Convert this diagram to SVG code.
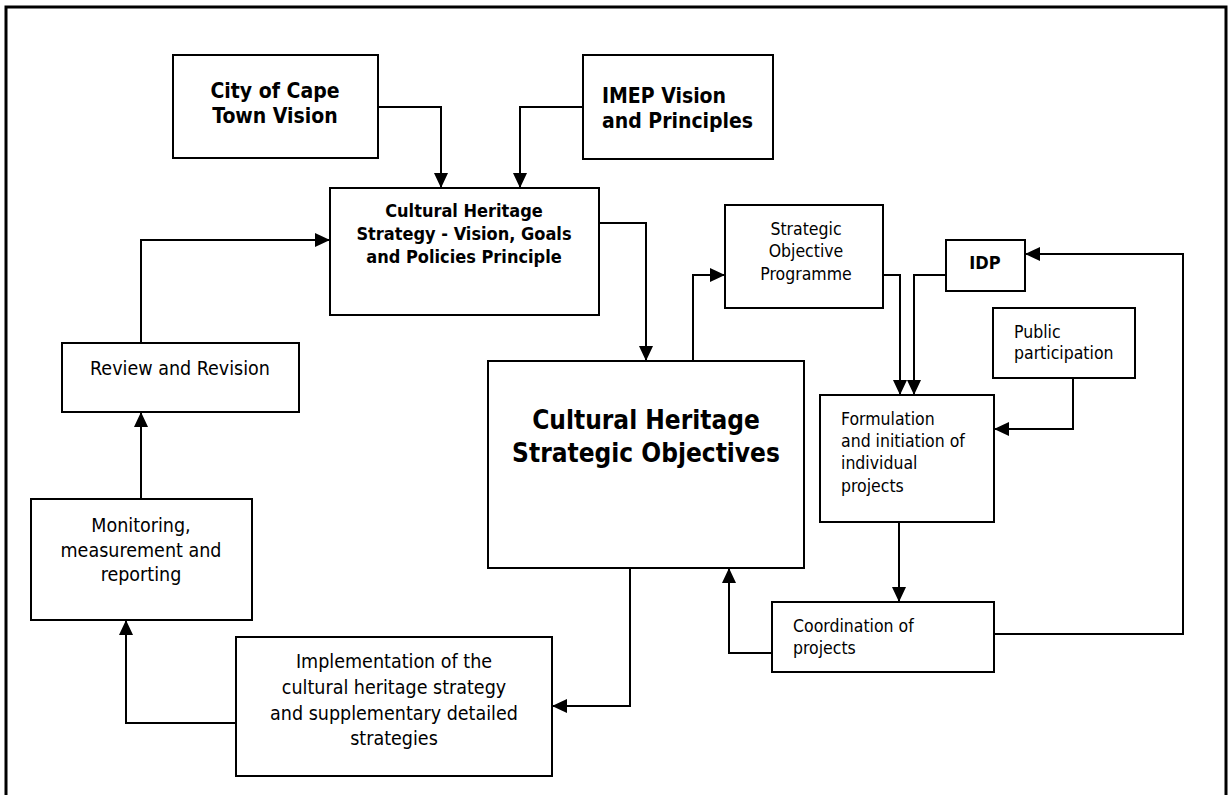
<svg xmlns="http://www.w3.org/2000/svg" width="1231" height="795" viewBox="0 0 1231 795">
<style>
.box{fill:#fff;stroke:#000;stroke-width:2}
.t{font-family:"DejaVu Sans Condensed","DejaVu Sans",sans-serif;fill:#000}
.b{font-weight:bold}
.c{text-anchor:middle}
.s{font-size:17.5px}
.m{font-size:19.5px}
.con{fill:none;stroke:#000;stroke-width:2}
</style>
<defs>
<marker id="arr" markerUnits="userSpaceOnUse" markerWidth="15" markerHeight="14" refX="15" refY="7" orient="auto">
<path d="M0,0 L15,7 L0,14 z" fill="#000"/>
</marker>
</defs>
<rect width="1231" height="795" fill="#fff"/>
<path d="M6,795 V7 H1226 V795" fill="none" stroke="#000" stroke-width="3"/>

<g id="connectors">
<path class="con" d="M378,107 H441 V188" marker-end="url(#arr)"/>
<path class="con" d="M583,107 H520 V188" marker-end="url(#arr)"/>
<path class="con" d="M141,343 V240 H330" marker-end="url(#arr)"/>
<path class="con" d="M599,223 H646 V361" marker-end="url(#arr)"/>
<path class="con" d="M693,361 V275 H725" marker-end="url(#arr)"/>
<path class="con" d="M883,275 H900 V395" marker-end="url(#arr)"/>
<path class="con" d="M946,275 H914 V395" marker-end="url(#arr)"/>
<path class="con" d="M1073,378 V429 H994" marker-end="url(#arr)"/>
<path class="con" d="M899,522 V602" marker-end="url(#arr)"/>
<path class="con" d="M994,634 H1183 V254 H1025" marker-end="url(#arr)"/>
<path class="con" d="M772,653 H729 V568" marker-end="url(#arr)"/>
<path class="con" d="M630,568 V706 H552" marker-end="url(#arr)"/>
<path class="con" d="M236,723 H126 V620" marker-end="url(#arr)"/>
<path class="con" d="M141,499 V412" marker-end="url(#arr)"/>
</g>

<g id="city-vision">
<rect class="box" x="173" y="55" width="205" height="103"/>
<text class="t b c" font-size="21" x="275" y="98">City of Cape</text>
<text class="t b c" font-size="21" x="275" y="123">Town Vision</text>
</g>

<g id="imep-vision">
<rect class="box" x="583" y="55" width="190" height="104"/>
<text class="t b" font-size="21" x="602" y="103">IMEP Vision</text>
<text class="t b" font-size="21" x="602" y="128">and Principles</text>
</g>

<g id="ch-strategy">
<rect class="box" x="330" y="188" width="269" height="127"/>
<text class="t b c" font-size="18" x="464" y="217">Cultural Heritage</text>
<text class="t b c" font-size="18" x="464" y="240">Strategy - Vision, Goals</text>
<text class="t b c" font-size="18" x="464" y="263">and Policies Principle</text>
</g>

<g id="sop">
<rect class="box" x="725" y="205" width="158" height="103"/>
<text class="t s c" x="806" y="235">Strategic</text>
<text class="t s c" x="806" y="257">Objective</text>
<text class="t s c" x="806" y="280">Programme</text>
</g>

<g id="idp">
<rect class="box" x="946" y="240" width="79" height="51"/>
<text class="t b c" font-size="18" x="985" y="269">IDP</text>
</g>

<g id="public">
<rect class="box" x="993" y="308" width="142" height="70"/>
<text class="t s" x="1014" y="338">Public</text>
<text class="t s" x="1014" y="359">participation</text>
</g>

<g id="ch-objectives">
<rect class="box" x="488" y="361" width="316" height="207"/>
<text class="t b c" font-size="26" x="646" y="429">Cultural Heritage</text>
<text class="t b c" font-size="26" x="646" y="462">Strategic Objectives</text>
</g>

<g id="formulation">
<rect class="box" x="820" y="395" width="174" height="127"/>
<text class="t s" x="841" y="425">Formulation</text>
<text class="t s" x="841" y="447">and initiation of</text>
<text class="t s" x="841" y="469">individual</text>
<text class="t s" x="841" y="492">projects</text>
</g>

<g id="coordination">
<rect class="box" x="772" y="602" width="222" height="70"/>
<text class="t s" x="793" y="632">Coordination of</text>
<text class="t s" x="793" y="654">projects</text>
</g>

<g id="review">
<rect class="box" x="62" y="343" width="237" height="69"/>
<text class="t m c" x="180" y="375">Review and Revision</text>
</g>

<g id="monitoring">
<rect class="box" x="31" y="499" width="221" height="121"/>
<text class="t m c" x="141" y="532">Monitoring,</text>
<text class="t m c" x="141" y="557">measurement and</text>
<text class="t m c" x="141" y="581">reporting</text>
</g>

<g id="implementation">
<rect class="box" x="236" y="637" width="316" height="139"/>
<text class="t m c" x="394" y="668">Implementation of the</text>
<text class="t m c" x="394" y="694">cultural heritage strategy</text>
<text class="t m c" x="394" y="720">and supplementary detailed</text>
<text class="t m c" x="394" y="745">strategies</text>
</g>
</svg>
